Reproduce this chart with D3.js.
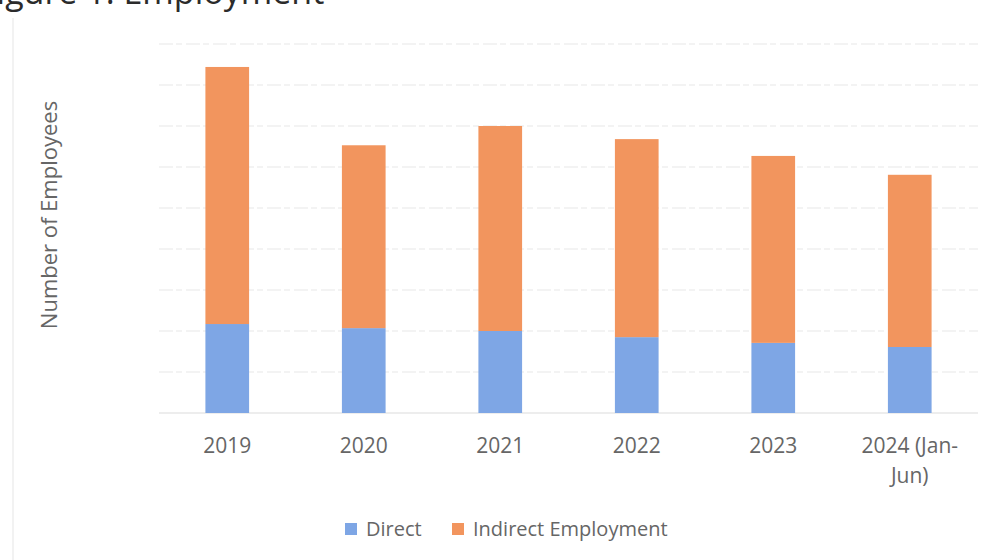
<!DOCTYPE html>
<html>
<head>
<meta charset="utf-8">
<script src="https://cdn.jsdelivr.net/npm/d3@7"></script>
<style>
  html, body { margin: 0; padding: 0; background: #fff; }
  svg { display: block; font-family: "Open Sans", "Liberation Sans", sans-serif; }
</style>
</head>
<body>
<svg id="chart" width="994" height="560"></svg>
<script>
// data (no axis numbers are shown, so units are estimated)
const years = ["2019", "2020", "2021", "2022", "2023", "2024 (Jan-Jun)"];
const direct = [2170, 2070, 2000, 1850, 1710, 1610];
const indirect = [6270, 4460, 5000, 4830, 4560, 4200];
const seriesNames = ["Direct", "Indirect Employment"];
const gridTicks = [0, 1000, 2000, 3000, 4000, 5000, 6000, 7000, 8000, 9000];

const colors = { "Direct": "#7ea6e5", "Indirect Employment": "#f2955e" };

const width = 994, height = 560;
const margin = { top: 44, right: 16, bottom: 147, left: 159 };

const svg = d3.select("#chart");

// faint frame of the scanned figure
svg.append("line")
  .attr("x1", 13).attr("x2", 13).attr("y1", 18).attr("y2", height)
  .attr("stroke", "#eeeeee").attr("stroke-width", 1.5);

// title, cut at the top edge like in the scan
svg.append("text")
  .attr("x", -21).attr("y", 4)
  .attr("font-size", 34)
  .attr("fill", "#2b2b2b")
  .text("Figure 1: Employment");

const rows = years.map((y, i) => ({ year: y, "Direct": direct[i], "Indirect Employment": indirect[i] }));
const stack = d3.stack().keys(seriesNames)(rows);

const x = d3.scaleBand()
  .domain(years)
  .range([margin.left, width - margin.right])
  .paddingInner(0.68)
  .paddingOuter(0.34);

const y = d3.scaleLinear()
  .domain([0, 9000])
  .range([height - margin.bottom, margin.top]);

// gridlines
svg.append("g")
  .selectAll("line")
  .data(gridTicks)
  .join("line")
  .attr("x1", margin.left)
  .attr("x2", width - margin.right)
  .attr("y1", d => y(d))
  .attr("y2", d => y(d))
  .attr("stroke", d => d === 0 ? "#dcdcdc" : "#e8e8e8")
  .attr("stroke-width", 1.2)
  .attr("stroke-dasharray", d => d === 0 ? null : "14 3 6 4");

// bars
svg.append("g")
  .selectAll("g")
  .data(stack)
  .join("g")
  .attr("fill", d => colors[d.key])
  .selectAll("rect")
  .data(d => d)
  .join("rect")
  .attr("x", d => x(d.data.year))
  .attr("width", x.bandwidth())
  .attr("y", d => y(d[1]))
  .attr("height", d => y(d[0]) - y(d[1]));

// x labels (wrapped like Excel)
const xLabels = svg.append("g")
  .selectAll("text")
  .data(years)
  .join("text")
  .attr("x", d => x(d) + x.bandwidth() / 2)
  .attr("y", y(0) + 40)
  .attr("text-anchor", "middle")
  .attr("font-size", 21)
  .attr("fill", "#666");

xLabels.each(function(d) {
  const parts = d === "2024 (Jan-Jun)" ? ["2024 (Jan-", "Jun)"] : [d];
  const t = d3.select(this);
  parts.forEach((p, i) => {
    t.append("tspan")
      .attr("x", x(d) + x.bandwidth() / 2)
      .attr("dy", i === 0 ? 0 : 30)
      .text(p);
  });
});

// y axis title
svg.append("text")
  .attr("transform", "translate(57, 215) rotate(-90)")
  .attr("text-anchor", "middle")
  .attr("font-size", 22)
  .attr("fill", "#666")
  .text("Number of Employees");

// legend
const legendX = [345, 452];
const legend = svg.append("g")
  .selectAll("g")
  .data(seriesNames)
  .join("g")
  .attr("transform", (d, i) => `translate(${legendX[i]}, 529)`);

legend.append("rect")
  .attr("x", 0).attr("y", -6)
  .attr("width", 12).attr("height", 12)
  .attr("fill", d => colors[d]);

legend.append("text")
  .attr("x", 21)
  .attr("y", 7)
  .attr("font-size", 20)
  .attr("fill", "#666")
  .text(d => d);
</script>
</body>
</html>
